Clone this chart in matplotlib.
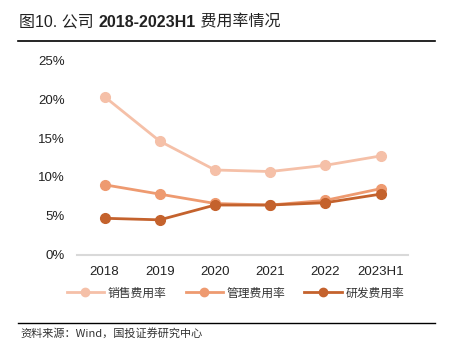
import matplotlib
matplotlib.use("Agg")
import matplotlib.pyplot as plt
from matplotlib.lines import Line2D
from matplotlib.ticker import FuncFormatter

plt.rcParams['font.family'] = ['Liberation Sans', 'Noto Sans CJK SC', 'DejaVu Sans']

categories = ["2018", "2019", "2020", "2021", "2022", "2023H1"]
sales_rate = [20.3, 14.6, 10.9, 10.7, 11.5, 12.7]
admin_rate = [9.0, 7.8, 6.6, 6.4, 7.0, 8.5]
rd_rate = [4.7, 4.5, 6.4, 6.4, 6.7, 7.8]
series_names = ["销售费用率", "管理费用率", "研发费用率"]
colors = ["#F5C0A8", "#EE9A70", "#C4622D"]

fig = plt.figure(figsize=(4.53, 3.58), dpi=100)
ax = fig.add_axes([0.170, 0.288, 0.731, 0.544])

x = range(len(categories))
for vals, c, name in zip([sales_rate, admin_rate, rd_rate], colors, series_names):
    ax.plot(x, vals, color=c, lw=2, marker='o', ms=7, label=name)

ax.set_ylim(0, 25)
ax.set_yticks([0, 5, 10, 15, 20, 25])
ax.yaxis.set_major_formatter(FuncFormatter(lambda v, p: f"{int(v)}%"))
ax.set_xlim(-0.5, len(categories) - 0.5)
ax.set_xticks(list(x))
ax.set_xticklabels(categories)
for s in ['top', 'right', 'left']:
    ax.spines[s].set_visible(False)
ax.spines['bottom'].set_color('#D9D9D9')
ax.spines['bottom'].set_linewidth(1.5)
ax.tick_params(axis='both', length=0, labelsize=9.5, colors='#222222', pad=8)
ax.tick_params(axis='y', pad=9)

handles = [Line2D([0], [0], color=c, lw=2, marker='o', ms=6) for c in colors]
leg = fig.legend(handles, series_names, loc='center', bbox_to_anchor=(0.52, 0.182),
                 ncol=3, frameon=False, handlelength=3.2, columnspacing=1.6,
                 handletextpad=0.3, prop={'family': ['Noto Sans CJK SC'], 'size': 8.5})
for t in leg.get_texts():
    t.set_color('#333333')

# Title in pieces: regular Chinese, bold years
renderer = fig.canvas.get_renderer()
parts = [("图10. 公司 ", 'normal'), ("2018-2023H1", 'bold'), (" 费用率情况", 'normal')]
xpos = 0.042
for txt, w in parts:
    t = fig.text(xpos, 0.938, txt, fontsize=11.5, family=['Liberation Sans', 'Noto Sans CJK SC'],
                 weight=w, color='#222222', va='center')
    bb = t.get_window_extent(renderer=renderer)
    xpos += bb.width / fig.bbox.width

fig.add_artist(Line2D([0.04, 0.96], [0.885, 0.885], color='black', lw=1.2, transform=fig.transFigure))
fig.add_artist(Line2D([0.04, 0.96], [0.098, 0.098], color='black', lw=1.0, transform=fig.transFigure))
fig.text(0.045, 0.068, "资料来源：Wind，国投证券研究中心", fontsize=8, family=['Noto Sans CJK SC'],
         style='italic', color='#333333', va='center')

fig.savefig("out.png", dpi=100)
